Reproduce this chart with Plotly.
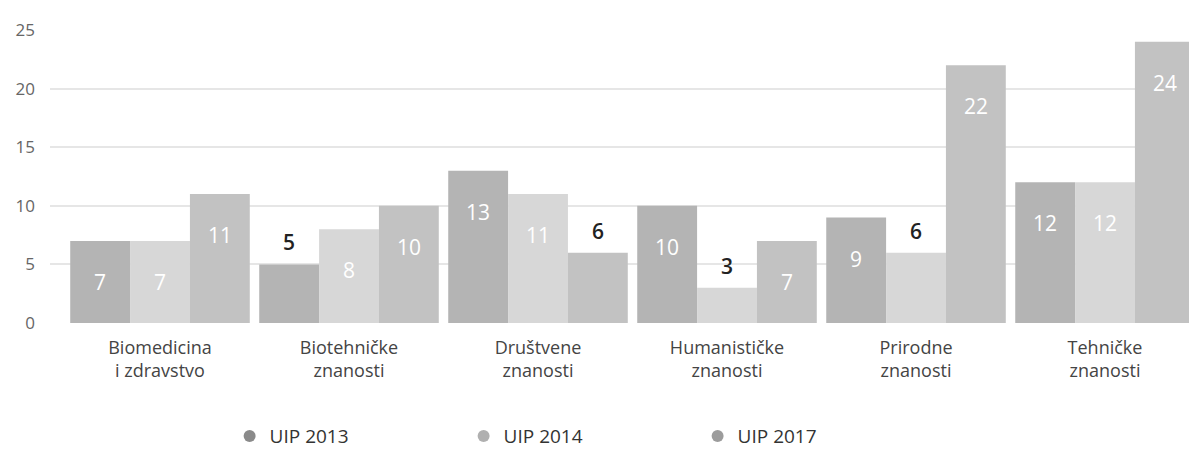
import plotly.graph_objects as go

categories = ["Biomedicina<br>i zdravstvo", "Biotehničke<br>znanosti", "Društvene<br>znanosti",
              "Humanističke<br>znanosti", "Prirodne<br>znanosti", "Tehničke<br>znanosti"]
series_names = ["UIP 2013", "UIP 2014", "UIP 2017"]
uip2013 = [7, 5, 13, 10, 9, 12]
uip2014 = [7, 8, 11, 3, 6, 12]
uip2017 = [11, 10, 6, 7, 22, 24]
y_ticks = [0, 5, 10, 15, 20, 25]

series = [uip2013, uip2014, uip2017]
bar_colors = ["#b4b4b4", "#d7d7d7", "#c2c2c2"]
legend_colors = ["#8a8a8a", "#b0b0b0", "#9c9c9c"]
BARGAP = 0.05

fig = go.Figure()
idx = list(range(len(categories)))
for name, vals, col in zip(series_names, series, bar_colors):
    fig.add_trace(go.Bar(x=idx, y=vals, name=name, marker=dict(color=col, line=dict(width=0)),
                         showlegend=False, hoverinfo="y"))
for name, col in zip(series_names, legend_colors):
    fig.add_trace(go.Scatter(x=[None], y=[None], mode="markers", name=name,
                             marker=dict(symbol="circle", size=12, color=col)))

w = (1 - BARGAP) / len(series)
annotations = []
for j, vals in enumerate(series):
    for i, v in enumerate(vals):
        xpos = i + (j - (len(series) - 1) / 2) * w
        if v <= 6:
            annotations.append(dict(x=xpos, y=v, xref="x", yref="y", text=str(v), showarrow=False,
                                    yshift=22, font=dict(size=21, color="#222222", family="Open Sans",
                                                         weight=600),
                                    yanchor="middle"))
        else:
            annotations.append(dict(x=xpos, y=v, xref="x", yref="y", text=str(v), showarrow=False,
                                    yshift=-41, font=dict(size=21, color="#ffffff", family="Open Sans"),
                                    yanchor="middle"))

# page body has an 8px default margin, so the figure is sized/offset to compensate
fig.update_layout(
    width=1197, height=456,
    margin=dict(l=42, r=0, t=22, b=141),
    paper_bgcolor="white", plot_bgcolor="white",
    barmode="group", bargap=BARGAP, bargroupgap=0,
    font=dict(family="Open Sans", color="#444444"),
    xaxis=dict(type="linear", tickmode="array", tickvals=idx, ticktext=categories,
               range=[-0.582, 5.529], showgrid=False, zeroline=False, showline=False,
               tickfont=dict(size=18, color="#444444"), ticks="", automargin=False,
               ticklabelstandoff=12),
    yaxis=dict(range=[0, 25], tickvals=y_ticks, showgrid=True, gridcolor="#e6e6e6", gridwidth=2,
               zeroline=False, showline=False, tickfont=dict(size=17, color="#666666"),
               ticklabelstandoff=14, automargin=False),
    legend=dict(orientation="h", x=0.1555, xanchor="left", y=-0.386, yanchor="middle",
                font=dict(size=19, color="#333333"), entrywidth=189, itemwidth=30),
    annotations=annotations,
)

fig.write_html("out.html")
